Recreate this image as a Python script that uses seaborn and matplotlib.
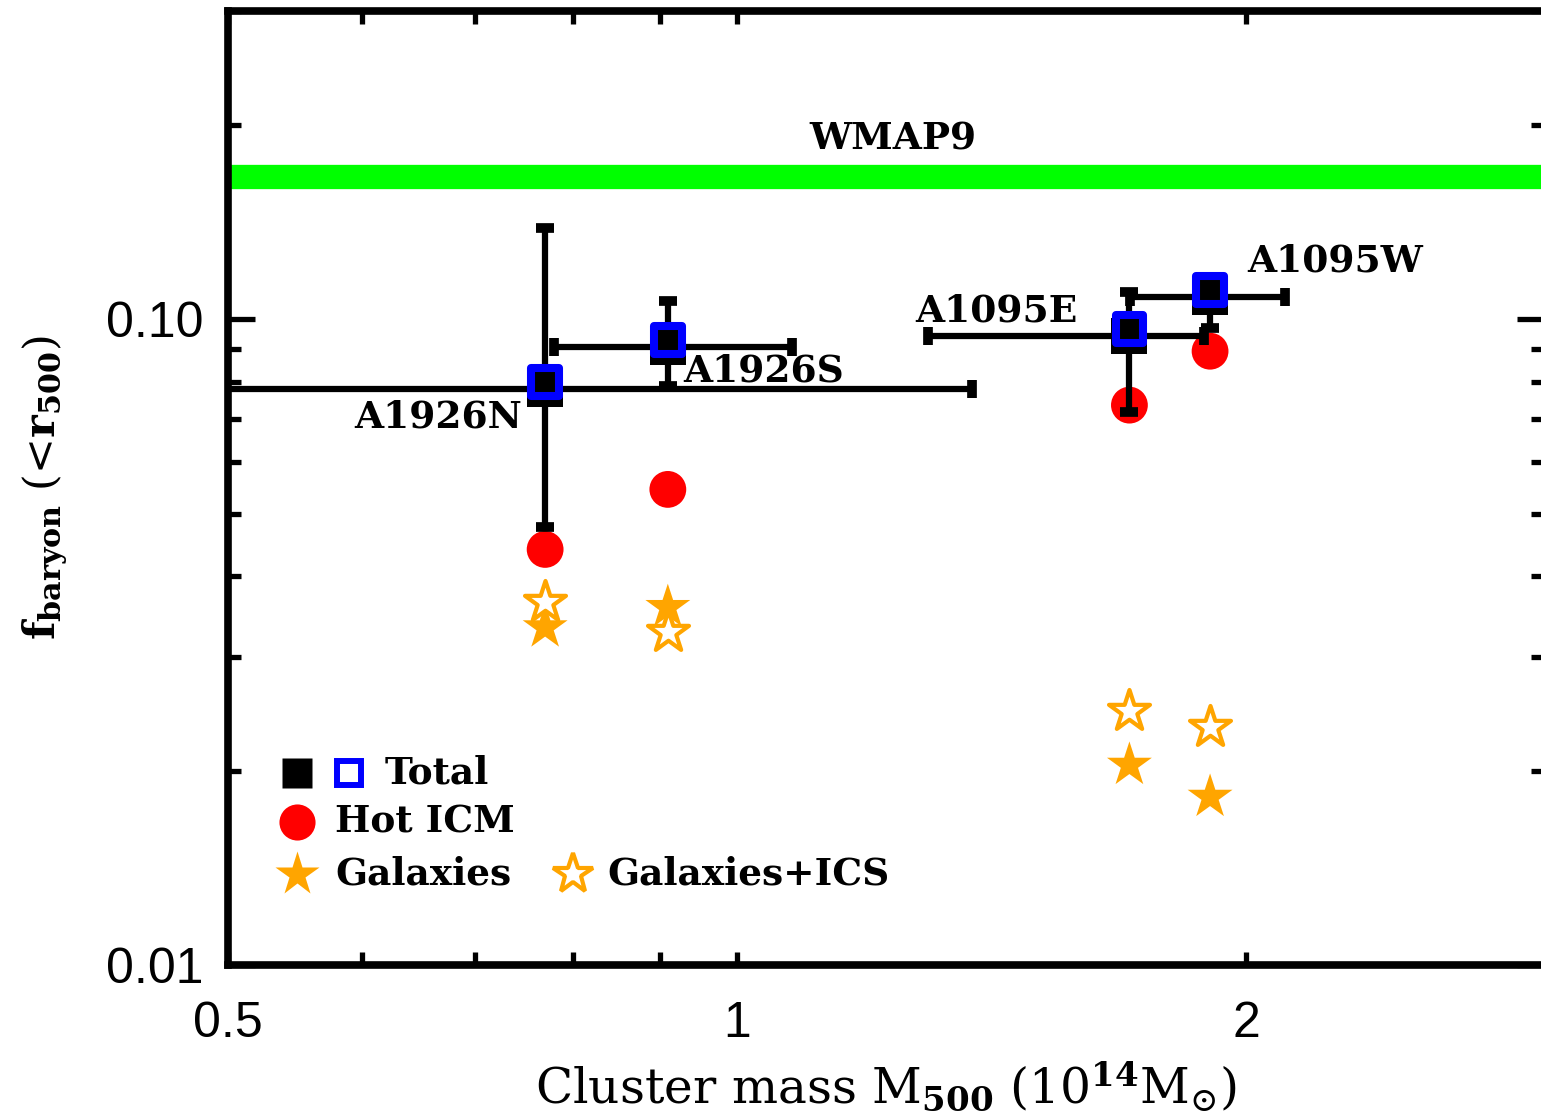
import numpy as np
import pandas as pd
import matplotlib
matplotlib.use("Agg")
import matplotlib.pyplot as plt
from matplotlib.ticker import FixedLocator, NullFormatter, FixedFormatter
from matplotlib.transforms import ScaledTranslation
import seaborn as sns

# ---- data -------------------------------------------------------------
clusters = ["A1926N", "A1926S", "A1095E", "A1095W"]
mass = [0.770, 0.910, 1.706, 1.904]                 # M500 [1e14 Msun]
mass_lo = [0.43, 0.779, 1.297, 1.708]               # lower mass bound
mass_hi = [1.377, 1.078, 1.889, 2.109]              # upper mass bound
f_total = [0.0779, 0.0905, 0.0941, 0.1082]          # total baryon fraction
f_total_lo = [0.0476, 0.0787, 0.0718, 0.0968]
f_total_hi = [0.1383, 0.1066, 0.1101, 0.1155]
f_icm = [0.0440, 0.0545, 0.0736, 0.0892]            # hot ICM
f_gal = [0.0333, 0.0358, 0.0204, 0.0182]            # galaxies
f_gal_ics = [0.0365, 0.0328, 0.0247, 0.0234]        # galaxies + ICS
f_wmap9 = 0.166                                     # cosmic baryon fraction

x_major = [0.5, 1, 2]
x_minor = [0.6, 0.7, 0.8, 0.9, 3]
y_major = [0.01, 0.10]
y_major_labels = ["0.01", "0.10"]
y_minor = [0.02, 0.03, 0.04, 0.05, 0.06, 0.07, 0.08, 0.09, 0.2, 0.3]

df = pd.DataFrame({
    "cluster": clusters, "mass": mass,
    "total": f_total, "icm": f_icm, "gal": f_gal, "gal_ics": f_gal_ics,
})

# ---- style ------------------------------------------------------------
sns.set_theme(style="ticks")
plt.rcParams["font.family"] = ["DejaVu Serif"]
plt.rcParams["mathtext.fontset"] = "dejavuserif"
plt.rcParams["axes.linewidth"] = 5.5
for key in ["text.color", "axes.labelcolor", "axes.edgecolor",
            "xtick.color", "ytick.color"]:
    plt.rcParams[key] = "black"

ORANGE = "#FFA500"
LABEL_FONT = dict(family="DejaVu Serif", weight="bold", size=27,
                  color="black")

fig = plt.figure(figsize=(15.41, 11.19), dpi=100)
ax = fig.add_axes([228 / 1541, 154 / 1119, 1316 / 1541, 954 / 1119])
ax.set_xscale("log")
ax.set_yscale("log")
ax.set_xlim(0.5, 3.0)
ax.set_ylim(0.01, 0.3)

# cosmic baryon fraction band
ax.axhline(f_wmap9, color="#00FF00", lw=17.5, zorder=1)
ax.annotate("WMAP9", xy=(1.237, f_wmap9), xytext=(0, 38),
            textcoords="offset pixels", ha="center", va="center",
            **LABEL_FONT)

# hot ICM
sns.scatterplot(data=df, x="mass", y="icm", marker="o", s=26.5 ** 2,
                color="red", edgecolor="none", ax=ax, zorder=3)

# stellar components
sns.scatterplot(data=df, x="mass", y="gal", marker="*", s=34 ** 2,
                color=ORANGE, edgecolor="none", ax=ax, zorder=3)
sns.scatterplot(data=df, x="mass", y="gal_ics", marker="*", s=31 ** 2,
                facecolor="white", edgecolor=ORANGE, linewidth=3.0,
                ax=ax, zorder=3)

# total baryon fraction with error bars
m = np.array(mass)
ft = np.array(f_total)
xerr = [m - np.array(mass_lo), np.array(mass_hi) - m]
yerr = [ft - np.array(f_total_lo), np.array(f_total_hi) - ft]
ax.errorbar(m, ft, xerr=xerr, yerr=yerr, fmt="none", ecolor="black",
            elinewidth=4.5, capsize=6.5, capthick=7, zorder=4)

sns.scatterplot(data=df, x="mass", y="total", marker="s", s=26 ** 2,
                color="black", edgecolor="none", ax=ax, zorder=5)
sns.scatterplot(data=df, x="mass", y="total", marker="s", s=20 ** 2,
                facecolor="none", edgecolor="#0000FF", linewidth=5.8,
                ax=ax, zorder=6)
blue = ax.collections[-1]
blue.set_offset_transform(ax.transData +
                          ScaledTranslation(0, 7 / 100, fig.dpi_scale_trans))

# cluster names
name_offsets = {
    "A1926N": ((-23, -28), "right"),
    "A1926S": ((15, -24), "left"),
    "A1095E": ((-52, 25), "right"),
    "A1095W": ((37, 36), "left"),
}
for name, xv, yv in zip(clusters, mass, f_total):
    off, ha = name_offsets[name]
    ax.annotate(name, xy=(xv, yv), xytext=off, textcoords="offset pixels",
                ha=ha, va="center", zorder=7, **LABEL_FONT)

# ---- key --------------------------------------------------------------
kt = ax.transAxes
ax.plot([0.0524], [0.2013], "s", ms=21.5, color="black", mec="none",
        transform=kt, clip_on=False)
ax.plot([0.0919], [0.2013], "s", ms=17.5, mfc="none", mec="#0000FF",
        mew=4.3, transform=kt, clip_on=False)
ax.text(0.1193, 0.2013, "Total", transform=kt, ha="left", va="center",
        **LABEL_FONT)
ax.plot([0.0524], [0.1499], "o", ms=26, color="red", mec="none",
        transform=kt, clip_on=False)
ax.text(0.0813, 0.1499, "Hot ICM", transform=kt, ha="left", va="center",
        **LABEL_FONT)
ax.plot([0.0524], [0.0954], "*", ms=33, color=ORANGE, mec="none",
        transform=kt, clip_on=False)
ax.text(0.0813, 0.0954, "Galaxies", transform=kt, ha="left", va="center",
        **LABEL_FONT)
ax.plot([0.2622], [0.0954], "*", ms=30, mfc="white", mec=ORANGE, mew=3.0,
        transform=kt, clip_on=False)
ax.text(0.288, 0.0954, "Galaxies+ICS", transform=kt, ha="left",
        va="center", **LABEL_FONT)

# ---- axes -------------------------------------------------------------
ax.xaxis.set_major_locator(FixedLocator(x_major))
ax.xaxis.set_major_formatter(FixedFormatter([str(v) for v in x_major]))
ax.xaxis.set_minor_locator(FixedLocator(x_minor))
ax.xaxis.set_minor_formatter(NullFormatter())
ax.yaxis.set_major_locator(FixedLocator(y_major))
ax.yaxis.set_major_formatter(FixedFormatter(y_major_labels))
ax.yaxis.set_minor_locator(FixedLocator(y_minor))
ax.yaxis.set_minor_formatter(NullFormatter())

ax.tick_params(axis="both", which="both", direction="in", top=True,
               right=True, width=3.8, color="black", labelcolor="black")
ax.tick_params(axis="x", which="both", length=9.5, pad=26)
ax.tick_params(axis="y", which="major", length=19.5, pad=18)
ax.tick_params(axis="y", which="minor", length=9.5)
for lab in ax.get_xticklabels() + ax.get_yticklabels():
    lab.set_fontfamily("Liberation Sans")
    lab.set_fontsize(36)

ax.set_xlabel(r"Cluster mass M$_{\mathbf{500}}$ (10$^{\mathbf{14}}$M$_{\odot}$)",
              fontsize=35, labelpad=9)
ax.set_ylabel(r"$\mathbf{f}_{\mathbf{baryon}}$ (<$\mathbf{r}_{\mathbf{500}}$)",
              fontsize=31, labelpad=26)

for sp in ax.spines.values():
    sp.set_linewidth(5.5)
    sp.set_color("black")
    sp.set_capstyle("projecting")

fig.savefig("out.png", dpi=100)
